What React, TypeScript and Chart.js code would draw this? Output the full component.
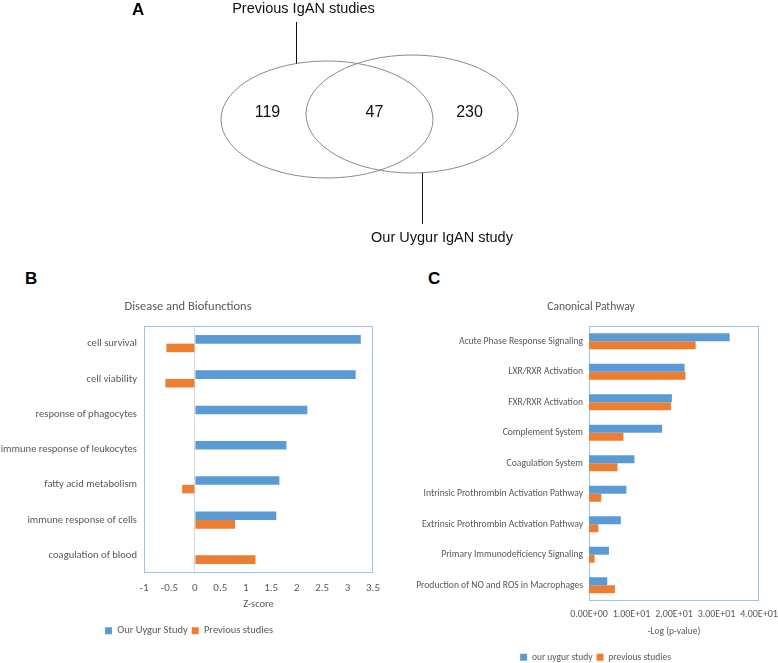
import React, { useEffect, useRef } from "react";
import { Chart, registerables } from "chart.js";

Chart.register(...registerables);

// ---------------- Panel A: Venn diagram ----------------
const vennSetNames = ["Previous IgAN studies", "Our Uygur IgAN study"];
const vennCounts = [119, 47, 230];

// ---------------- Panel B: Disease and Biofunctions ----------------
const bioCategories = [
  "cell survival",
  "cell viability",
  "response of phagocytes",
  "immune response of leukocytes",
  "fatty acid metabolism",
  "immune response of cells",
  "coagulation of blood",
];
const bioOurUygur = [3.26, 3.16, 2.21, 1.8, 1.66, 1.6, null];
const bioPrevious = [-0.56, -0.58, null, null, -0.25, 0.79, 1.19];
const zTickValues = [-1, -0.5, 0, 0.5, 1, 1.5, 2, 2.5, 3, 3.5];
const zTickLabels = ["-1", "-0.5", "0", "0.5", "1", "1.5", "2", "2.5", "3", "3.5"];

// ---------------- Panel C: Canonical Pathway ----------------
const pathwayCategories = [
  "Acute Phase Response Signaling",
  "LXR/RXR Activation",
  "FXR/RXR Activation",
  "Complement System",
  "Coagulation System",
  "Intrinsic Prothrombin Activation Pathway",
  "Extrinsic Prothrombin Activation Pathway",
  "Primary Immunodeficiency Signaling",
  "Production of NO and ROS in Macrophages",
];
const pathwayOurUygur = [33.1, 22.5, 19.5, 17.2, 10.7, 8.8, 7.5, 4.7, 4.3];
const pathwayPrevious = [25.1, 22.7, 19.3, 8.1, 6.7, 2.9, 2.2, 1.3, 6.1];
const logTickValues = [0, 10, 20, 30, 40];
const logTickLabels = ["0.00E+00", "1.00E+01", "2.00E+01", "3.00E+01", "4.00E+01"];

// ---------------- styling ----------------
const BLUE = "#5b9bd5";
const ORANGE = "#ed7d31";
const FRAME = "#9dc3e6";
const TEXT = "#595959";
const FONT = "Carlito, Lato, sans-serif";
const ARIAL = "'Liberation Sans', Arial, sans-serif";

// Venn layout (in the Venn canvas's data space, which maps 1:1 to pixels)
const VENN_W = 778;
const VENN_H = 260;
const vennEllipses = [
  { cx: 327, cy: 119.5, rx: 106, ry: 58.5 },
  { cx: 412, cy: 114, rx: 106, ry: 59 },
];
const vennCountPos = [
  { x: 267.5, y: 112.5 },
  { x: 374.5, y: 112.5 },
  { x: 469.5, y: 112.5 },
];
const vennLabelPos = [
  { x: 303.5, y: 8.5, lineX: 296, lineFrom: 22, lineTo: 63.5 },
  { x: 442, y: 237.5, lineX: 422, lineFrom: 172.7, lineTo: 224 },
];

const vennPlugin = {
  id: "vennDraw",
  afterDatasetsDraw(chart: any) {
    const { ctx } = chart;
    const xs = chart.scales.x;
    const ys = chart.scales.y;
    ctx.save();
    ctx.strokeStyle = "#8a8a8a";
    ctx.lineWidth = 1;
    [0, 1].forEach((i) => {
      const pt = chart.getDatasetMeta(i).data[0];
      const e = vennEllipses[i];
      const rx = Math.abs(xs.getPixelForValue(e.cx + e.rx) - xs.getPixelForValue(e.cx));
      const ry = Math.abs(ys.getPixelForValue(e.cy + e.ry) - ys.getPixelForValue(e.cy));
      ctx.beginPath();
      ctx.ellipse(pt.x, pt.y, rx, ry, 0, 0, Math.PI * 2);
      ctx.stroke();
    });
    ctx.fillStyle = "#111";
    ctx.font = `16px ${ARIAL}`;
    ctx.textAlign = "center";
    ctx.textBaseline = "middle";
    chart.getDatasetMeta(2).data.forEach((p: any, i: number) => {
      ctx.fillText(String(vennCounts[i]), p.x, p.y);
    });
    ctx.font = `14.5px ${ARIAL}`;
    ctx.strokeStyle = "#111";
    vennLabelPos.forEach((l, i) => {
      ctx.fillText(vennSetNames[i], xs.getPixelForValue(l.x), ys.getPixelForValue(l.y));
      const lx = Math.round(xs.getPixelForValue(l.lineX)) + 0.5;
      ctx.beginPath();
      ctx.moveTo(lx, ys.getPixelForValue(l.lineFrom));
      ctx.lineTo(lx, ys.getPixelForValue(l.lineTo));
      ctx.stroke();
    });
    ctx.restore();
  },
};

const framePlugin = {
  id: "plotFrame",
  beforeDatasetsDraw(chart: any) {
    const { ctx, chartArea } = chart;
    ctx.save();
    ctx.strokeStyle = FRAME;
    ctx.lineWidth = 1;
    ctx.strokeRect(
      Math.round(chartArea.left) + 0.5,
      Math.round(chartArea.top) + 0.5,
      Math.round(chartArea.right - chartArea.left) - 1,
      Math.round(chartArea.bottom - chartArea.top) - 1
    );
    ctx.restore();
  },
};

// Excel centres the title / legend over the whole chart object; nudge Chart.js boxes accordingly
const boxShiftPlugin = {
  id: "boxShift",
  afterLayout(chart: any, _args: any, opts: any) {
    if (chart.titleBlock && opts.title) {
      chart.titleBlock.left += opts.title;
      chart.titleBlock.right += opts.title;
    }
    if (chart.legend && opts.legend) {
      chart.legend.left += opts.legend;
      chart.legend.right += opts.legend;
    }
  },
};

interface BarSpec {
  title: string;
  titleFont: number;
  labels: string[];
  seriesNames: string[];
  a: (number | null)[];
  b: (number | null)[];
  tickValues: number[];
  tickLabels: string[];
  axisTitle: string;
  axisTitleFont: number;
  yWidth: number;
  xHeight: number;
  rightPad: number;
  catPct: number;
  yFont: number;
  tickFont: number;
  tickCenter: number; // distance of tick-label centre below the plot area
  legendFont: number;
  titlePad: { top: number; bottom: number };
  axisTitlePadBottom: number;
  yPad: number;
  zeroLine: boolean;
  shift: { title: number; legend: number };
}

function barConfig(s: BarSpec): any {
  return {
    type: "bar",
    data: {
      labels: s.labels,
      datasets: [
        {
          label: s.seriesNames[0],
          data: s.a,
          backgroundColor: BLUE,
          categoryPercentage: s.catPct,
          barPercentage: 1,
        },
        {
          label: s.seriesNames[1],
          data: s.b,
          backgroundColor: ORANGE,
          categoryPercentage: s.catPct,
          barPercentage: 1,
        },
      ],
    },
    options: {
      indexAxis: "y",
      responsive: false,
      animation: false,
      layout: { padding: { left: 0, right: s.rightPad, top: 0, bottom: 0 } },
      plugins: {
        title: {
          display: true,
          text: s.title,
          color: TEXT,
          font: { family: FONT, size: s.titleFont, weight: "normal" },
          padding: s.titlePad,
        },
        legend: {
          position: "bottom",
          labels: {
            boxWidth: 7,
            boxHeight: 7,
            color: TEXT,
            font: { family: FONT, size: s.legendFont },
            padding: 4,
          },
        },
        tooltip: { enabled: false },
        boxShift: s.shift,
      },
      scales: {
        x: {
          type: "linear",
          min: s.tickValues[0],
          max: s.tickValues[s.tickValues.length - 1],
          afterBuildTicks: (scale: any) => {
            scale.ticks = s.tickValues.map((v) => ({ value: v }));
          },
          afterFit: (scale: any) => {
            scale.height = s.xHeight;
          },
          grid: {
            display: s.zeroLine,
            drawTicks: false,
            color: (c: any) => (c.tick && c.tick.value === 0 ? "#d9d9d9" : "rgba(0,0,0,0)"),
          },
          border: { display: false },
          ticks: {
            padding: 0,
            color: TEXT,
            font: { family: FONT, size: s.tickFont, lineHeight: (2 * s.tickCenter) / s.tickFont },
            maxRotation: 0,
            autoSkip: false,
            callback: (v: number) => {
              const i = s.tickValues.indexOf(v);
              return i >= 0 ? s.tickLabels[i] : "";
            },
          },
          title: {
            display: true,
            text: s.axisTitle,
            color: TEXT,
            font: { family: FONT, size: s.axisTitleFont },
            padding: { top: 0, bottom: s.axisTitlePadBottom },
          },
        },
        y: {
          grid: { display: false, drawTicks: false },
          border: { display: false },
          ticks: {
            padding: s.yPad,
            color: TEXT,
            font: { family: FONT, size: s.yFont },
            autoSkip: false,
          },
          afterFit: (scale: any) => {
            scale.width = s.yWidth;
          },
        },
      },
    },
    plugins: [framePlugin, boxShiftPlugin],
  };
}

function VennChart() {
  const ref = useRef<HTMLCanvasElement>(null);
  useEffect(() => {
    const chart = new Chart(ref.current as HTMLCanvasElement, {
      type: "scatter",
      data: {
        datasets: [
          { label: vennSetNames[0], data: [{ x: vennEllipses[0].cx, y: vennEllipses[0].cy }], pointRadius: 0 },
          { label: vennSetNames[1], data: [{ x: vennEllipses[1].cx, y: vennEllipses[1].cy }], pointRadius: 0 },
          { label: "counts", data: vennCountPos.map((p) => ({ x: p.x, y: p.y })), pointRadius: 0 },
        ],
      },
      options: {
        responsive: false,
        animation: false,
        layout: { padding: 0 },
        plugins: { legend: { display: false }, title: { display: false }, tooltip: { enabled: false } },
        scales: {
          x: { type: "linear", min: 0, max: VENN_W, display: false },
          y: { type: "linear", min: 0, max: VENN_H, reverse: true, display: false },
        },
      } as any,
      plugins: [vennPlugin],
    });
    return () => chart.destroy();
  }, []);
  return (
    <canvas
      ref={ref}
      width={VENN_W}
      height={VENN_H}
      style={{ position: "absolute", left: 0, top: 0, width: VENN_W, height: VENN_H }}
    />
  );
}

function BarChart({ spec, left, top, width, height }: { spec: BarSpec; left: number; top: number; width: number; height: number }) {
  const ref = useRef<HTMLCanvasElement>(null);
  useEffect(() => {
    const chart = new Chart(ref.current as HTMLCanvasElement, barConfig(spec));
    return () => chart.destroy();
  }, []);
  return (
    <canvas
      ref={ref}
      width={width}
      height={height}
      style={{ position: "absolute", left, top, width, height }}
    />
  );
}

const specB: BarSpec = {
  title: "Disease and Biofunctions",
  titleFont: 12.5,
  labels: bioCategories,
  seriesNames: ["Our Uygur Study", "Previous studies"],
  a: bioOurUygur,
  b: bioPrevious,
  tickValues: zTickValues,
  tickLabels: zTickLabels,
  axisTitle: "Z-score",
  axisTitleFont: 10.5,
  yWidth: 144,
  xHeight: 48.5,
  rightPad: 17,
  catPct: 0.485,
  yFont: 10.6,
  tickFont: 11,
  tickCenter: 15,
  legendFont: 10.5,
  titlePad: { top: 9.5, bottom: 11.5 },
  axisTitlePadBottom: 11.2,
  yPad: 7,
  zeroLine: true,
  shift: { title: 1.5, legend: 2.5 },
};

const specC: BarSpec = {
  title: "Canonical Pathway",
  titleFont: 11.5,
  labels: pathwayCategories,
  seriesNames: ["our uygur study", "previous studies"],
  a: pathwayOurUygur,
  b: pathwayPrevious,
  tickValues: logTickValues,
  tickLabels: logTickLabels,
  axisTitle: "-Log (p-value)",
  axisTitleFont: 9.5,
  yWidth: 199,
  xHeight: 48,
  rightPad: 19,
  catPct: 0.53,
  yFont: 9.6,
  tickFont: 10,
  tickCenter: 14,
  legendFont: 9.5,
  titlePad: { top: 10.1, bottom: 12.1 },
  axisTitlePadBottom: 11.3,
  yPad: 6,
  zeroLine: false,
  shift: { title: 16.5, legend: 21 },
};

const letterStyle: React.CSSProperties = {
  position: "absolute",
  fontFamily: ARIAL,
  fontWeight: "bold",
  fontSize: 17,
  lineHeight: "17px",
  color: "#000",
};

export default function App() {
  return (
    <div
      style={{
        position: "absolute",
        left: 0,
        top: 0,
        width: 778,
        height: 663,
        overflow: "hidden",
        background: "#fff",
      }}
    >
      <VennChart />
      <BarChart spec={specB} left={0} top={290} width={390} height={356} />
      <BarChart spec={specC} left={390} top={290} width={388} height={382} />
      <div style={{ ...letterStyle, left: 132, top: 1 }}>A</div>
      <div style={{ ...letterStyle, left: 25, top: 270 }}>B</div>
      <div style={{ ...letterStyle, left: 428, top: 270 }}>C</div>
    </div>
  );
}
